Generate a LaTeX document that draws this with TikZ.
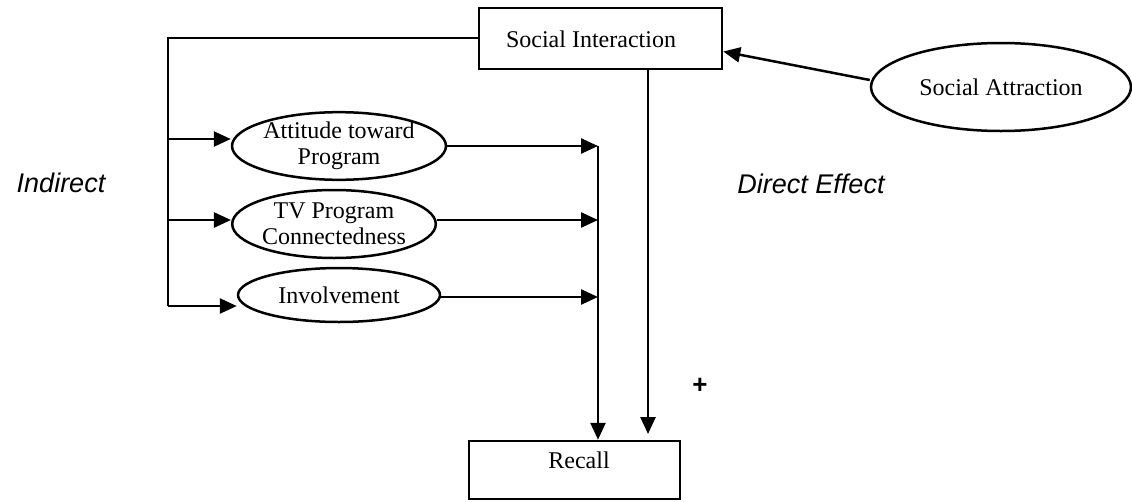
\documentclass[tikz,border=0pt]{standalone}
\usepackage{fontspec}
\setmainfont{Liberation Serif}
\newfontfamily\labelsans{Liberation Sans}
\usetikzlibrary{shapes.geometric,arrows.meta}
\begin{document}
\begin{tikzpicture}[x=1pt,y=-1pt,
  every node/.style={font=\fontsize{24}{26}\selectfont},
  boxnode/.style={draw,line width=2.5pt,rectangle,inner sep=0pt},
  ellnode/.style={draw,line width=2.5pt,ellipse,inner sep=0pt,align=center},
  conn/.style={line width=2.5pt},
  arr/.style={line width=2.5pt,-{Triangle[length=17pt,width=15pt]}},
  effect/.style={font=\labelsans\itshape\fontsize{27}{30}\selectfont}]
\useasboundingbox (0,0) rectangle (1132,501);
% nodes
\node[boxnode,minimum width=243pt,minimum height=61pt] (si) at (600.5,38.5) {};
\node (sit) at (591,39) {Social Interaction};
\node[boxnode,minimum width=211pt,minimum height=58pt] (rc) at (574.5,470) {};
\node (rct) at (579,460) {Recall};
\node[ellnode,minimum width=260pt,minimum height=88pt] (sa) at (1001,87) {Social Attraction};
\node[ellnode,minimum width=202pt,minimum height=66pt] (att) at (339,146) {Attitude toward\\Program};
\node[ellnode,minimum width=192pt,minimum height=68pt] (tv) at (334,224) {TV Program\\Connectedness};
\node[ellnode,minimum width=202pt,minimum height=54pt] (inv) at (339,295) {Involvement};
\node[effect] (ind) at (61,183) {Indirect};
\node[effect] (dir) at (811,184) {Direct Effect};
\node[font=\labelsans\bfseries\fontsize{26}{28}\selectfont] (plus) at (700,386) {+};
% coordinates
\coordinate (tl) at (168,38);
\coordinate (b1) at (168,139);
\coordinate (b2) at (168,220);
\coordinate (b3) at (168,306);
\coordinate (c1) at (598,146);
\coordinate (c2) at (598,220);
\coordinate (c3) at (598,297);
\coordinate (sd) at (648,434);
% connectors
\draw[conn] (si.west |- tl) -- (tl) -- (b3);
\draw[arr] (b1) -- (att.west |- b1);
\draw[arr] (b2) -- (tv.west |- b2);
\draw[arr] (b3) -- (inv.west |- b3);
\draw[arr] (att.east |- c1) -- (c1);
\draw[arr] (tv.east |- c2) -- (c2);
\draw[arr] (inv.east |- c3) -- (c3);
\draw[arr] (c1) -- (rc.north -| c1);
\draw[arr] (si.south -| sd) -- (sd);
\draw[arr] ([yshift=7pt]sa.west) -- ([yshift=-13pt]si.east);
\end{tikzpicture}
\end{document}
